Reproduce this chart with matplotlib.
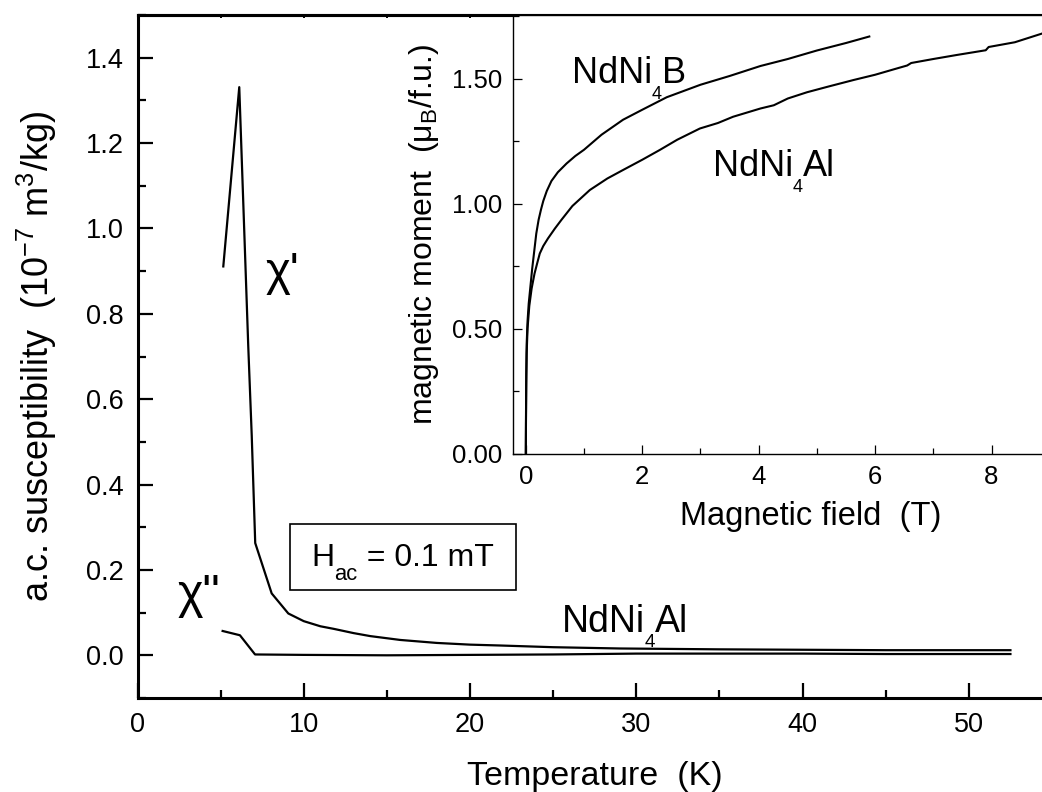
import matplotlib
matplotlib.use("Agg")
import matplotlib.pyplot as plt
from matplotlib.ticker import MultipleLocator, FormatStrFormatter
from matplotlib.transforms import Bbox
from matplotlib.patches import Rectangle

plt.rcParams.update({
    'font.family': ['Liberation Sans', 'DejaVu Sans'],
    'mathtext.fontset': 'custom',
    'mathtext.rm': 'Liberation Sans',
    'mathtext.it': 'Liberation Sans:italic',
    'mathtext.bf': 'Liberation Sans:bold',
    'mathtext.default': 'regular',
})

# ---- main panel: a.c. susceptibility of NdNi4Al ----
temp_real = [5.16, 6.12, 6.66, 6.87, 7.08, 8.07, 9.07, 10.0, 11.0, 11.8, 13.0, 14.0, 15.8,
             18.0, 20.0, 21.8, 25.0, 29.0, 35.0, 40.0, 45.0, 52.5]
chi_real = [0.911, 1.331, 0.725, 0.515, 0.263, 0.145, 0.098, 0.080, 0.068, 0.062, 0.052,
            0.045, 0.036, 0.029, 0.025, 0.023, 0.019, 0.016, 0.014, 0.013, 0.012, 0.012]

temp_imag = [5.12, 6.16, 7.07, 10.0, 15.0, 20.0, 25.0, 30.0, 35.0, 40.0, 45.0, 52.5]
chi_imag = [0.057, 0.047, 0.002, 0.001, 0.000, 0.001, 0.002, 0.004, 0.004, 0.004, 0.003, 0.003]

# ---- inset: magnetization curves ----
field_B = [0.0, 0.003, 0.008, 0.015, 0.03, 0.05, 0.08, 0.11, 0.14, 0.18, 0.22, 0.26,
           0.30, 0.36, 0.44, 0.55, 0.70, 0.85, 1.00, 1.30, 1.67, 2.00, 2.42, 3.00,
           3.50, 4.03, 4.50, 5.00, 5.50, 5.90]
moment_B = [0.0, 0.15, 0.32, 0.44, 0.53, 0.60, 0.67, 0.74, 0.80, 0.88, 0.935, 0.975,
            1.01, 1.05, 1.09, 1.125, 1.16, 1.19, 1.215, 1.275, 1.335, 1.375, 1.425, 1.475,
            1.51, 1.55, 1.578, 1.612, 1.642, 1.668]

field_Al = [0.0, 0.003, 0.008, 0.015, 0.03, 0.06, 0.10, 0.15, 0.20, 0.24, 0.30, 0.38,
            0.50, 0.61, 0.80, 1.10, 1.40, 1.67, 2.00, 2.30, 2.60, 2.99, 3.30, 3.56,
            4.03, 4.26, 4.50, 4.83, 5.20, 5.63, 6.00, 6.40, 6.55, 6.62, 7.00, 7.40,
            7.69, 7.90, 7.95, 8.40, 8.87]
moment_Al = [0.0, 0.12, 0.28, 0.40, 0.50, 0.59, 0.66, 0.72, 0.765, 0.80, 0.83, 0.86,
             0.90, 0.934, 0.99, 1.054, 1.10, 1.134, 1.175, 1.214, 1.255, 1.30, 1.322, 1.347,
             1.38, 1.393, 1.42, 1.445, 1.468, 1.494, 1.515, 1.542, 1.552, 1.562, 1.578, 1.594,
             1.605, 1.613, 1.626, 1.645, 1.68]

main_xticks = [0, 10, 20, 30, 40, 50]
main_yticks = [0.0, 0.2, 0.4, 0.6, 0.8, 1.0, 1.2, 1.4]
inset_xticks = [0, 2, 4, 6, 8]
inset_yticks = [0.0, 0.5, 1.0, 1.5]


def chem(axis, x, y, parts, size, sub_scale=0.5, drop=0.42):
    """Text with lowered subscripts, chained piece by piece on one baseline."""
    first = axis.text(x, y, parts[0][0], fontsize=size, ha='left', va='baseline')
    arts = [first]
    prev = first
    for s, is_sub in parts[1:]:
        fs = size * sub_scale if is_sub else size
        dy = -drop * size if is_sub else 0
        t = axis.annotate(s, xy=(1, y), xycoords=(prev, 'data'), xytext=(0, dy),
                          textcoords='offset points', fontsize=fs, ha='left',
                          va='baseline', annotation_clip=False)
        arts.append(t)
        prev = t
    return arts


W, H = 1042, 792
fig = plt.figure(figsize=(W / 100, H / 100), dpi=100)

# main axes (right spine lies just outside the picture)
ax = fig.add_axes([137.5 / W, (H - 698) / H, 914.5 / W, 683 / H])
ax.plot(temp_real, chi_real, color='black', lw=1.6)
ax.plot(temp_imag, chi_imag, color='black', lw=1.6)
ax.set_xlim(0, 55)
ax.set_ylim(-0.1, 1.5)
ax.set_xticks(main_xticks)
ax.set_yticks(main_yticks)
ax.xaxis.set_minor_locator(MultipleLocator(5))
ax.yaxis.set_minor_locator(MultipleLocator(0.1))
ax.yaxis.set_major_formatter(FormatStrFormatter('%.1f'))
for s in ax.spines.values():
    s.set_linewidth(2.2)
ax.tick_params(which='both', direction='in', width=1.6, labelsize=19.5, pad=10)
ax.tick_params(which='major', length=11)
ax.tick_params(which='minor', length=5.5)
ax.set_xlabel('Temperature  (K)', fontsize=24.5, labelpad=17)
ax.set_ylabel('a.c. susceptibility  (10$^{-7}$ m$^{3}$/kg)', fontsize=26, labelpad=19)

top = ax.secondary_xaxis('top')
top.set_xticks(main_xticks, labels=[])
top.xaxis.set_minor_locator(MultipleLocator(5))
top.tick_params(which='both', direction='in', length=2.5, width=1.4)
top.spines['top'].set_linewidth(2.2)

ax.text(7.7, 0.895, "χ'", fontsize=34, ha='left', va='center')
ax.text(2.4, 0.14, 'χ"', fontsize=35, ha='left', va='center')
chem(ax, 25.5, 0.055, [('NdNi', False), ('4', True), ('Al', False)], 27, 0.5, 0.4)
hac = chem(ax, 10.45, 0.209, [('H', False), ('ac', True), (' = 0.1 mT', False)], 23, 0.69, 0.44)

# inset axes
ins = fig.add_axes([513 / W, (H - 453.5) / H, 595 / W, 438.5 / H])
ins.plot(field_B, moment_B, color='black', lw=1.5)
ins.plot(field_Al, moment_Al, color='black', lw=1.5)
ins.set_xlim(-0.22, 10.0)
ins.set_ylim(0, 1.754)
ins.set_xticks(inset_xticks)
ins.set_yticks(inset_yticks)
ins.xaxis.set_minor_locator(MultipleLocator(1))
ins.yaxis.set_minor_locator(MultipleLocator(0.25))
ins.yaxis.set_major_formatter(FormatStrFormatter('%.2f'))
for s in ins.spines.values():
    s.set_linewidth(1.0)
ins.tick_params(which='both', direction='in', width=0.9, labelsize=18.5, pad=8)
ins.tick_params(which='major', length=6.5)
ins.tick_params(which='minor', length=4)
ins.set_xlabel('Magnetic field  (T)', fontsize=23.5, labelpad=9)
ins.set_ylabel('magnetic moment  (μ$_{B}$/f.u.)', fontsize=23, labelpad=8)
chem(ins, 0.79, 1.482, [('NdNi', False), ('4', True), ('B', False)], 26, 0.5, 0.44)
chem(ins, 3.21, 1.11, [('NdNi', False), ('4', True), ('Al', False)], 26, 0.5, 0.44)

# frame around the H_ac label, sized from the rendered text
fig.canvas.draw()
renderer = fig.canvas.get_renderer()
bb = Bbox.union([a.get_window_extent(renderer) for a in hac])
x0, x1 = bb.x0 - 21, bb.x1 + 22
y0, y1 = bb.y0 - 5, bb.y1 + 19
inv = fig.transFigure.inverted()
(fx0, fy0), (fx1, fy1) = inv.transform([(x0, y0), (x1, y1)])
fig.patches.append(Rectangle((fx0, fy0), fx1 - fx0, fy1 - fy0, transform=fig.transFigure,
                             fill=False, ec='black', lw=1.2, zorder=5))

fig.savefig('out.png', dpi=100)
